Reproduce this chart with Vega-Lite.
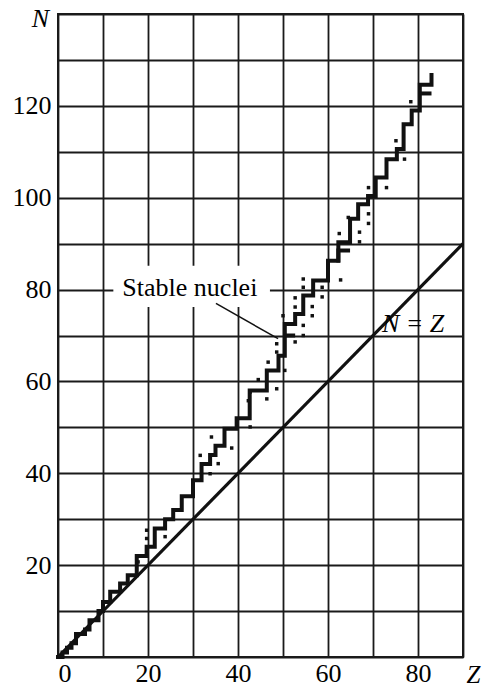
{
  "$schema": "https://vega.github.io/schema/vega-lite/v6.json",
  "width": 405,
  "height": 643,
  "autosize": "none",
  "padding": {"left": 58, "top": 14, "right": 20, "bottom": 32},
  "background": "white",
  "config": {
    "view": {"stroke": "#1a1a1a", "strokeWidth": 2},
    "font": "Liberation Serif"
  },
  "datasets": {
    "stair": [
      {"i": 0, "Z": 0, "N": 0}, {"i": 1, "Z": 1, "N": 1}, {"i": 2, "Z": 2, "N": 2}, {"i": 3, "Z": 3, "N": 3},
      {"i": 4, "Z": 4, "N": 5}, {"i": 5, "Z": 6, "N": 6}, {"i": 6, "Z": 7, "N": 8}, {"i": 7, "Z": 9, "N": 10},
      {"i": 8, "Z": 10, "N": 12}, {"i": 9, "Z": 11.6, "N": 14.2}, {"i": 10, "Z": 13.8, "N": 16}, {"i": 11, "Z": 15.5, "N": 17.8},
      {"i": 12, "Z": 17.5, "N": 22}, {"i": 13, "Z": 19.7, "N": 24}, {"i": 14, "Z": 21.5, "N": 28}, {"i": 15, "Z": 23.8, "N": 30},
      {"i": 16, "Z": 25.6, "N": 32}, {"i": 17, "Z": 27.5, "N": 35}, {"i": 18, "Z": 30, "N": 38.5}, {"i": 19, "Z": 31.9, "N": 42},
      {"i": 20, "Z": 33.8, "N": 44}, {"i": 21, "Z": 35, "N": 46}, {"i": 22, "Z": 37, "N": 49.7}, {"i": 23, "Z": 39.7, "N": 52},
      {"i": 24, "Z": 42.6, "N": 58}, {"i": 25, "Z": 46.4, "N": 62.4}, {"i": 26, "Z": 49, "N": 65.6}, {"i": 27, "Z": 50.4, "N": 72.5},
      {"i": 28, "Z": 52.7, "N": 74.7}, {"i": 29, "Z": 54.5, "N": 78.7}, {"i": 30, "Z": 56.7, "N": 82}, {"i": 31, "Z": 60, "N": 86.3},
      {"i": 32, "Z": 62.3, "N": 90.3}, {"i": 33, "Z": 64.9, "N": 95.4}, {"i": 34, "Z": 66.7, "N": 98.6}, {"i": 35, "Z": 68.9, "N": 100.4},
      {"i": 36, "Z": 70.6, "N": 104.4}, {"i": 37, "Z": 73, "N": 108.4}, {"i": 38, "Z": 75.3, "N": 110.6}, {"i": 39, "Z": 76.8, "N": 116},
      {"i": 40, "Z": 78.6, "N": 119}, {"i": 41, "Z": 80.4, "N": 124.6}, {"i": 42, "Z": 83, "N": 126.7}
    ],
    "extra": [
      {"s": "a", "i": 0, "Z": 62.3, "N": 85.9}, {"s": "a", "i": 1, "Z": 62.3, "N": 88.5}, {"s": "a", "i": 2, "Z": 64.9, "N": 88.5},
      {"s": "b", "i": 0, "Z": 80.4, "N": 122.7}, {"s": "b", "i": 1, "Z": 83, "N": 122.7},
      {"s": "c", "i": 0, "Z": 50.4, "N": 70}, {"s": "c", "i": 1, "Z": 52.7, "N": 70}
    ],
    "dots": [
      {"Z": 17.8, "N": 20.7}, {"Z": 19.7, "N": 25.8}, {"Z": 19.7, "N": 27.6}, {"Z": 23.8, "N": 26.2},
      {"Z": 31.6, "N": 43.9}, {"Z": 33.8, "N": 39.9}, {"Z": 35.6, "N": 42.1}, {"Z": 34.1, "N": 47.9},
      {"Z": 38.6, "N": 45.5}, {"Z": 42.7, "N": 50.1}, {"Z": 42.7, "N": 57.7}, {"Z": 42.3, "N": 55.8},
      {"Z": 46.4, "N": 56.2}, {"Z": 48.6, "N": 58.4}, {"Z": 44.5, "N": 60.4}, {"Z": 46.7, "N": 64.2},
      {"Z": 48.6, "N": 66.4}, {"Z": 48.6, "N": 68.2}, {"Z": 50.4, "N": 62.4}, {"Z": 50, "N": 74.3},
      {"Z": 52.7, "N": 68.6}, {"Z": 52.7, "N": 76.2}, {"Z": 52.7, "N": 78.2}, {"Z": 54.5, "N": 70},
      {"Z": 54.5, "N": 72.2}, {"Z": 54.5, "N": 80.5}, {"Z": 54.5, "N": 82.3}, {"Z": 56.5, "N": 74.3},
      {"Z": 56.5, "N": 76.3}, {"Z": 58.7, "N": 78.4}, {"Z": 58.7, "N": 80.5}, {"Z": 60, "N": 85},
      {"Z": 62.8, "N": 82.1}, {"Z": 62.5, "N": 92.2}, {"Z": 64.5, "N": 95.7}, {"Z": 67, "N": 90.4},
      {"Z": 67, "N": 92.5}, {"Z": 69, "N": 94.4}, {"Z": 69, "N": 96.5}, {"Z": 69, "N": 102.2},
      {"Z": 73, "N": 102.2}, {"Z": 75.1, "N": 112.4}, {"Z": 77, "N": 108.4}, {"Z": 78.4, "N": 120.9}
    ]
  },
  "encoding": {
    "x": {
      "field": "Z", "type": "quantitative",
      "scale": {"domain": [0, 90], "nice": false, "zero": false},
      "axis": {
        "values": [0, 10, 20, 30, 40, 50, 60, 70, 80, 90],
        "labelExpr": "datum.value % 20 == 0 && datum.value < 90 ? datum.label : ''",
        "grid": true, "gridColor": "#1a1a1a", "gridWidth": 1.8, "gridOpacity": 1,
        "ticks": false, "domain": false,
        "labelFont": "Liberation Serif", "labelFontSize": 26, "labelColor": "black", "labelPadding": 3,
        "title": "Z", "titleFont": "Liberation Serif", "titleFontStyle": "italic", "titleFontWeight": "normal",
        "titleFontSize": 25, "titleColor": "black", "titleX": 415, "titleY": 25,
        "titleAlign": "center", "titleBaseline": "alphabetic"
      }
    },
    "y": {
      "field": "N", "type": "quantitative",
      "scale": {"domain": [0, 140], "nice": false, "zero": false},
      "axis": {
        "values": [0, 10, 20, 30, 40, 50, 60, 70, 80, 90, 100, 110, 120, 130, 140],
        "labelExpr": "datum.value % 20 == 0 && datum.value > 0 && datum.value < 140 ? datum.label : ''",
        "grid": true, "gridColor": "#1a1a1a", "gridWidth": 1.8, "gridOpacity": 1,
        "ticks": false, "domain": false,
        "labelFont": "Liberation Serif", "labelFontSize": 26, "labelColor": "black", "labelPadding": 7,
        "title": "N", "titleFont": "Liberation Serif", "titleFontStyle": "italic", "titleFontWeight": "normal",
        "titleFontSize": 26, "titleColor": "black", "titleAngle": 0, "titleX": -18, "titleY": 12,
        "titleAlign": "center", "titleBaseline": "alphabetic"
      }
    }
  },
  "layer": [
    {
      "data": {"values": [{"Z": 12.3, "N": 76.2, "Z2": 47.1, "N2": 85.2}]},
      "mark": {"type": "rect", "color": "white"},
      "encoding": {"x2": {"field": "Z2"}, "y2": {"field": "N2"}}
    },
    {
      "data": {"values": [{"Z": 0, "N": 0, "Z2": 90, "N2": 90}]},
      "mark": {"type": "rule", "color": "#111", "strokeWidth": 3.2},
      "encoding": {"x2": {"field": "Z2"}, "y2": {"field": "N2"}}
    },
    {
      "data": {"values": [{"Z": 35.1, "N": 77, "Z2": 48.9, "N2": 69.3}]},
      "mark": {"type": "rule", "color": "#111", "strokeWidth": 1.5},
      "encoding": {"x2": {"field": "Z2"}, "y2": {"field": "N2"}}
    },
    {
      "data": {"name": "stair"},
      "mark": {"type": "line", "interpolate": "step-after", "color": "#111", "strokeWidth": 4, "strokeCap": "square"},
      "encoding": {"order": {"field": "i", "type": "quantitative"}}
    },
    {
      "data": {"name": "extra"},
      "mark": {"type": "line", "color": "#111", "strokeWidth": 4},
      "encoding": {"detail": {"field": "s", "type": "nominal"}, "order": {"field": "i", "type": "quantitative"}}
    },
    {
      "data": {"name": "dots"},
      "mark": {"type": "point", "shape": "square", "filled": true, "color": "#111", "size": 12, "opacity": 1}
    },
    {
      "data": {"values": [{"Z": 29.3, "N": 80.4, "t": "Stable nuclei"}]},
      "mark": {"type": "text", "font": "Liberation Serif", "fontSize": 26, "color": "black", "align": "center", "baseline": "middle"},
      "encoding": {"text": {"field": "t"}}
    },
    {
      "data": {"values": [{"Z": 78.9, "N": 72.6, "t": "N = Z"}]},
      "mark": {"type": "text", "font": "Liberation Serif", "fontSize": 26, "fontStyle": "italic", "color": "black", "align": "center", "baseline": "middle"},
      "encoding": {"text": {"field": "t"}}
    }
  ]
}
